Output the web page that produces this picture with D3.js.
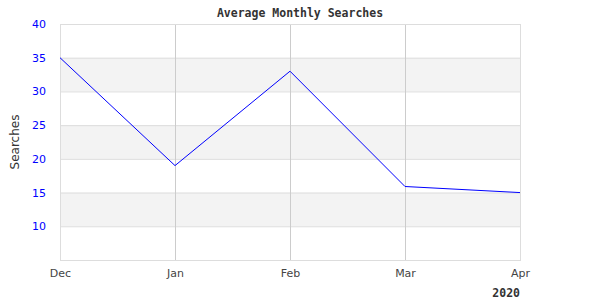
<!DOCTYPE html>
<html>
<head>
<meta charset="utf-8">
<script src="https://cdn.jsdelivr.net/npm/d3@7"></script>
<style>
  body { margin: 0; background: #fff; }
  .tick text { font-family: "DejaVu Sans", sans-serif; }
</style>
</head>
<body>
<div id="chart"></div>
<script>
// chart data
const months = ["Dec", "Jan", "Feb", "Mar", "Apr"];
const searches = [35, 19, 33, 15.9, 15];
const yTicks = [10, 15, 20, 25, 30, 35, 40];
const bands = [[10, 15], [20, 25], [30, 35]];

const W = 600, H = 300;
const margin = {top: 24, right: 80, bottom: 40, left: 60};
const width = W - margin.left - margin.right;
const height = H - margin.top - margin.bottom;

const svg = d3.select("#chart").append("svg")
    .attr("width", W)
    .attr("height", H);

const g = svg.append("g")
    .attr("transform", "translate(" + margin.left + "," + margin.top + ")");

const x = d3.scalePoint()
    .domain(months)
    .range([0, width]);

const y = d3.scaleLinear()
    .domain([5, 40])
    .range([height, 0]);

// alternating bands
g.selectAll(".band")
    .data(bands)
    .enter().append("rect")
    .attr("class", "band")
    .attr("x", 0)
    .attr("width", width)
    .attr("y", d => y(d[1]))
    .attr("height", d => y(d[0]) - y(d[1]))
    .attr("fill", "#f3f3f3");

// horizontal grid
g.selectAll(".hgrid")
    .data(yTicks)
    .enter().append("line")
    .attr("x1", 0).attr("x2", width)
    .attr("y1", d => y(d) + 0.5).attr("y2", d => y(d) + 0.5)
    .attr("stroke", "#dddddd");

// vertical grid
g.selectAll(".vgrid")
    .data(months.slice(1, -1))
    .enter().append("line")
    .attr("x1", d => x(d) + 0.5).attr("x2", d => x(d) + 0.5)
    .attr("y1", 0).attr("y2", height)
    .attr("stroke", "#cccccc");

// frame
g.append("rect")
    .attr("x", 0.5).attr("y", 0.5)
    .attr("width", width).attr("height", height)
    .attr("fill", "none")
    .attr("stroke", "#dddddd");

// axes
const yAxis = d3.axisLeft(y).tickValues(yTicks).tickSize(0).tickPadding(14);
g.append("g").call(yAxis)
    .call(a => a.select(".domain").remove())
    .selectAll("text")
    .attr("fill", "#0000ff")
    .style("font-size", "11px");

const xAxis = d3.axisBottom(x).tickSize(0).tickPadding(9);
g.append("g")
    .attr("transform", "translate(0," + height + ")")
    .call(xAxis)
    .call(a => a.select(".domain").remove())
    .selectAll("text")
    .attr("fill", "#444")
    .style("font-size", "11px");

// line
const line = d3.line()
    .x((d, i) => x(months[i]))
    .y(d => y(d));

g.append("path")
    .datum(searches)
    .attr("fill", "none")
    .attr("stroke", "#0000ff")
    .attr("stroke-width", 1)
    .attr("d", line);

// title
svg.append("text")
    .attr("x", 300).attr("y", 17)
    .attr("text-anchor", "middle")
    .style("font-family", "'DejaVu Sans Mono', monospace")
    .style("font-weight", "bold")
    .style("font-size", "11.5px")
    .attr("fill", "#333")
    .text("Average Monthly Searches");

// y label
svg.append("text")
    .attr("transform", "translate(19," + (margin.top + height / 2) + ") rotate(-90)")
    .attr("text-anchor", "middle")
    .style("font-family", "'DejaVu Sans', sans-serif")
    .style("font-size", "12px")
    .attr("fill", "#333")
    .text("Searches");

// year label
svg.append("text")
    .attr("x", margin.left + width).attr("y", 297)
    .attr("text-anchor", "end")
    .style("font-family", "'DejaVu Sans Mono', monospace")
    .style("font-weight", "bold")
    .style("font-size", "11.5px")
    .attr("fill", "#333")
    .text("2020");
</script>
</body>
</html>
